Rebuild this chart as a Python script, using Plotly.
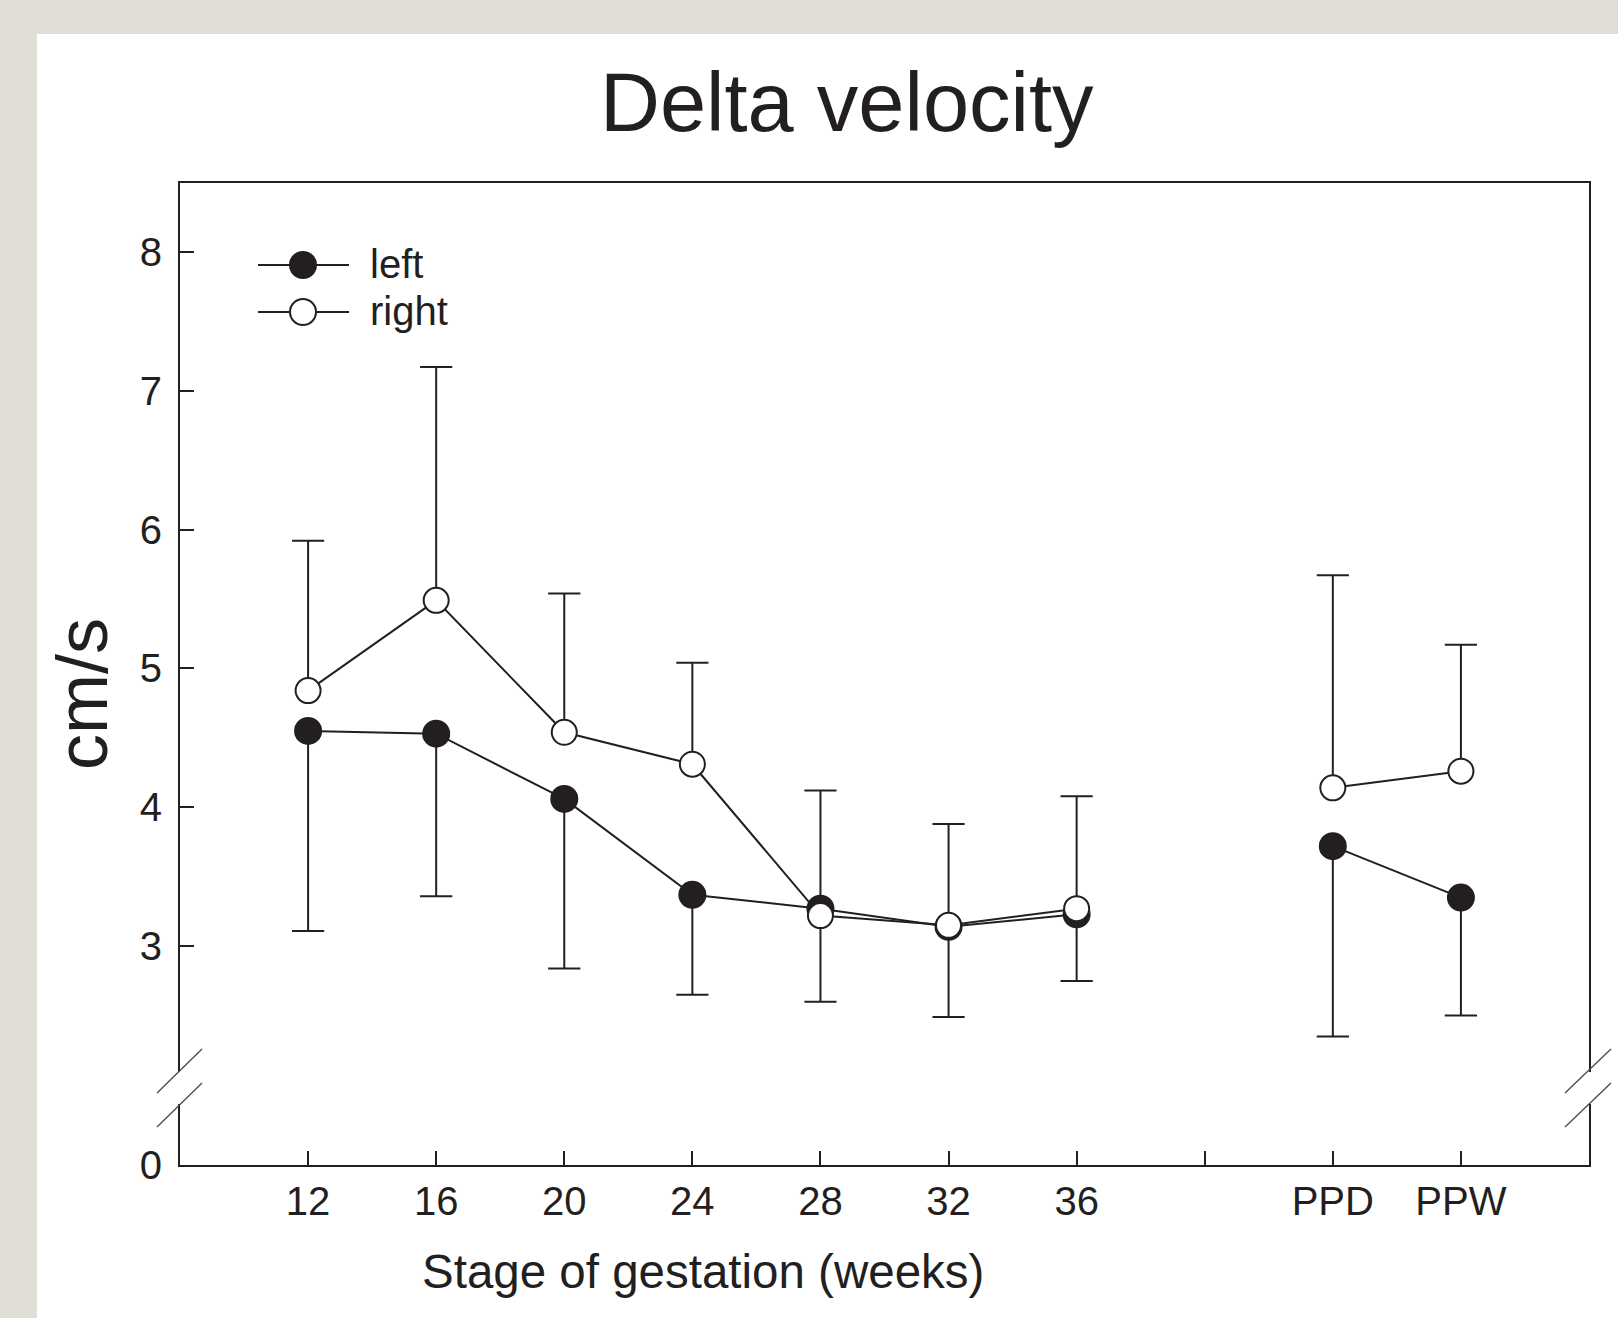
import plotly.graph_objects as go

# ---------------- data ----------------
stage_pos = [12, 16, 20, 24, 28, 32, 36, 40, 44, 48]
stage_labels = ["12", "16", "20", "24", "28", "32", "36", "", "PPD", "PPW"]

left_mean = [4.55, 4.53, 4.06, 3.37, 3.27, 3.14, 3.23, None, 3.72, 3.35]
left_sd = [1.44, 1.17, 1.22, 0.72, 0.67, 0.65, 0.48, None, 1.37, 0.85]

right_mean = [4.84, 5.49, 4.54, 4.31, 3.22, 3.15, 3.27, None, 4.14, 4.26]
right_sd = [1.08, 1.68, 1.00, 0.73, 0.90, 0.73, 0.81, None, 1.53, 0.91]

y_ticks = [3, 4, 5, 6, 7, 8]

# ---------------- style ----------------
INK = "#231F20"
BG = "#E1DED8"
FONT = "Liberation Sans, Arial, Helvetica, sans-serif"

W, H = 1618, 1318
L, R, T, B = 180, 1589, 183, 1165  # plot box in pixels
PW, PH = R - L, B - T


def px(xp):
    return (xp - L) / PW


def py(yp):
    return (B - yp) / PH


upper_dom = [py(1072), 1.0]
lower_dom = [0.0, py(1104)]

fig = go.Figure()

# placeholder so the lower (0) axis segment and the x axis are drawn
fig.add_trace(go.Scatter(x=[None], y=[None], xaxis="x", yaxis="y", mode="markers",
                         showlegend=False, hoverinfo="skip"))

# error bar stems + caps (left: downward, right: upward)
left_low = [m - s if m is not None else None for m, s in zip(left_mean, left_sd)]
right_high = [m + s if m is not None else None for m, s in zip(right_mean, right_sd)]
zeros = [0 if m is not None else None for m in left_mean]

fig.add_trace(go.Scatter(
    x=stage_pos, y=left_mean, mode="none", xaxis="x2", yaxis="y2", showlegend=False,
    error_y=dict(type="data", symmetric=False, array=zeros, arrayminus=left_sd,
                 width=0, thickness=2, color=INK),
    hoverinfo="skip"))
fig.add_trace(go.Scatter(
    x=stage_pos, y=right_mean, mode="none", xaxis="x2", yaxis="y2", showlegend=False,
    error_y=dict(type="data", symmetric=False, array=right_sd, arrayminus=zeros,
                 width=0, thickness=2, color=INK),
    hoverinfo="skip"))
fig.add_trace(go.Scatter(
    x=stage_pos + stage_pos, y=left_low + right_high, mode="markers",
    xaxis="x2", yaxis="y2", showlegend=False,
    marker=dict(symbol="line-ew", size=23, line=dict(width=2, color=INK)),
    hoverinfo="skip"))

# series
fig.add_trace(go.Scatter(
    x=stage_pos, y=left_mean, mode="lines+markers", name="left",
    xaxis="x2", yaxis="y2", connectgaps=False, showlegend=False,
    line=dict(color=INK, width=2),
    marker=dict(symbol="circle", size=26, color=INK, line=dict(width=2, color=INK))))
fig.add_trace(go.Scatter(
    x=stage_pos, y=right_mean, mode="lines+markers", name="right",
    xaxis="x2", yaxis="y2", connectgaps=False, showlegend=False,
    line=dict(color=INK, width=2),
    marker=dict(symbol="circle", size=25, color="white", line=dict(width=2, color=INK))))

tickfont = dict(family=FONT, size=40, color=INK)

fig.update_layout(
    width=W, height=H,
    margin=dict(l=L, r=W - R, t=T, b=H - B, pad=0, autoexpand=False),
    paper_bgcolor=BG, plot_bgcolor="white",
    font=dict(family=FONT, color=INK),
    showlegend=False,
    xaxis=dict(domain=[0, 1], anchor="y", range=[8, 52],
               tickmode="array", tickvals=stage_pos, ticktext=stage_labels,
               ticks="inside", ticklen=14, tickwidth=2, tickcolor=INK,
               showline=True, linewidth=2, linecolor=INK, showgrid=False,
               zeroline=False, tickfont=tickfont, automargin=False),
    xaxis2=dict(anchor="y2", matches="x", range=[8, 52], side="top",
                showline=True, linewidth=2, linecolor=INK, showgrid=False,
                showticklabels=False, ticks="", zeroline=False, automargin=False),
    yaxis=dict(domain=lower_dom, anchor="x", range=[0, 0.45],
               tickmode="array", tickvals=[0], ticktext=["0"],
               ticks="inside", ticklen=14, tickwidth=2, tickcolor=INK,
               showline=True, linewidth=2, linecolor=INK, mirror=True,
               showgrid=False, zeroline=False, tickfont=tickfont,
               ticklabelstandoff=8, automargin=False),
    yaxis2=dict(domain=upper_dom, anchor="x2", range=[2.094, 8.495],
                tickmode="array", tickvals=y_ticks,
                ticks="inside", ticklen=14, tickwidth=2, tickcolor=INK,
                showline=True, linewidth=2, linecolor=INK, mirror=True,
                showgrid=False, zeroline=False, tickfont=tickfont,
                ticklabelstandoff=8, automargin=False),
)

shapes = []
# white page area
shapes.append(dict(type="rect", xref="paper", yref="paper", layer="below",
                   x0=px(37), x1=px(W + 50), y0=py(H + 50), y1=py(34),
                   fillcolor="white", line=dict(width=0)))
# axis break marks
for (xa, xb) in [(157, 202), (1565, 1611)]:
    for (ya, yb) in [(1093, 1049), (1127, 1083)]:
        shapes.append(dict(type="line", xref="paper", yref="paper",
                           x0=px(xa), y0=py(ya), x1=px(xb), y1=py(yb),
                           line=dict(color="#4a4a4a", width=1.3)))
# legend symbols
for (ly, fill) in [(265, INK), (312, "white")]:
    shapes.append(dict(type="line", xref="paper", yref="paper",
                       x0=px(258), x1=px(349), y0=py(ly), y1=py(ly),
                       line=dict(color=INK, width=2)))
    shapes.append(dict(type="circle", xref="paper", yref="paper",
                       xsizemode="pixel", ysizemode="pixel",
                       xanchor=px(303), yanchor=py(ly),
                       x0=-13, x1=13, y0=-13, y1=13,
                       fillcolor=fill, line=dict(color=INK, width=2)))
fig.update_layout(shapes=shapes)

annotations = [
    dict(text="Delta velocity", xref="paper", yref="paper", x=px(847), y=py(102),
         xanchor="center", yanchor="middle", showarrow=False,
         font=dict(family=FONT, size=83, color=INK)),
    dict(text="Stage of gestation (weeks)", xref="paper", yref="paper",
         x=px(703), y=py(1271), xanchor="center", yanchor="middle", showarrow=False,
         font=dict(family=FONT, size=47.5, color=INK)),
    dict(text="cm/s", xref="paper", yref="paper", x=px(82), y=py(694),
         xanchor="center", yanchor="middle", textangle=-90, showarrow=False,
         font=dict(family=FONT, size=72, color=INK)),
    dict(text="left", xref="paper", yref="paper", x=px(368), y=py(264),
         xanchor="left", yanchor="middle", showarrow=False,
         font=dict(family=FONT, size=40, color=INK)),
    dict(text="right", xref="paper", yref="paper", x=px(368), y=py(311),
         xanchor="left", yanchor="middle", showarrow=False,
         font=dict(family=FONT, size=40, color=INK)),
]
fig.update_layout(annotations=annotations)

fig.write_html(
    "out.html",
    config={"displayModeBar": False},
    post_script="document.body.style.margin='0';document.body.style.padding='0';"
                "document.body.style.background='" + BG + "';"
                "document.documentElement.style.overflow='hidden';",
)
